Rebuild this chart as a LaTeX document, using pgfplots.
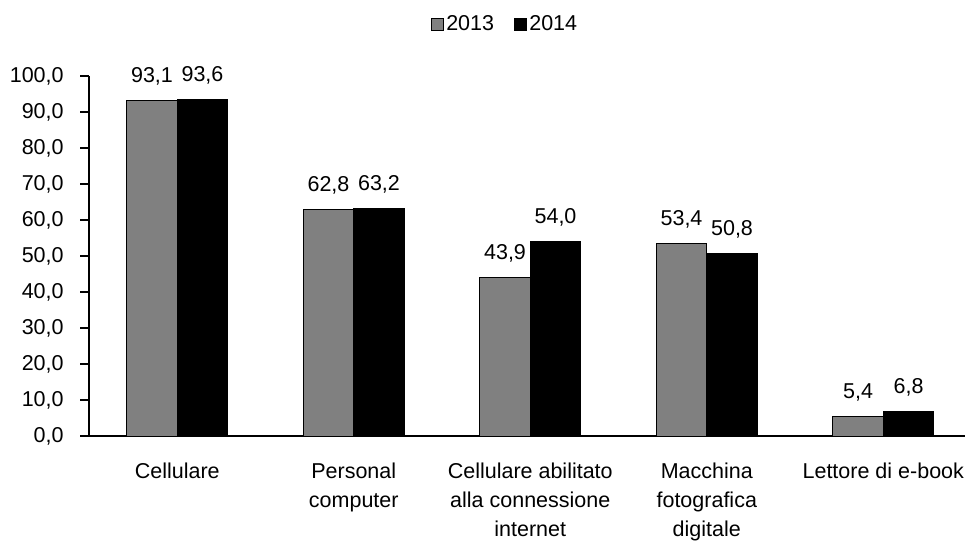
\documentclass[border=0pt]{standalone}
\usepackage{pgfplots}
\pgfplotsset{compat=1.18}
\usepackage{fontspec}
\setmainfont{Liberation Sans}
\newcommand{\cf}{\fontsize{10.75}{14.5}\selectfont}
\begin{document}
\begin{tikzpicture}
\path[use as bounding box] (0,0) rectangle (482.5pt,271pt);
\begin{axis}[
  at={(44.5pt,53pt)}, anchor=south west,
  scale only axis, width=438pt, height=180pt,
  ybar=0pt, bar width=25.25pt,
  xmin=-0.5, xmax=4.463, ymin=0, ymax=100,
  enlargelimits=false,
  axis x line*=bottom, axis y line*=left,
  axis line style={-, line width=0.8pt, black},
  xtick={0,1,2,3,4},
  xticklabels={Cellulare, Personal\\computer, Cellulare abilitato\\alla connessione\\internet, Macchina\\fotografica\\digitale, Lettore di e-book},
  xtick style={draw=none},
  minor xtick={-0.5,0.5,1.5,2.5,3.5},
  minor x tick style={line width=0.8pt, black},
  minor tick length=4pt,
  ytick={0,10,...,100},
  ytick style={line width=0.8pt, black},
  major tick length=4.5pt,
  tick align=outside,
  xticklabel style={font=\cf, align=center, anchor=north, inner sep=0pt, yshift=-9pt},
  yticklabel style={font=\cf, anchor=east, inner sep=0pt, xshift=-8pt},
  /pgf/number format/.cd, fixed, fixed zerofill, precision=1, use comma, 1000 sep={}, assume math mode=true,
  /pgfplots/.cd,
  nodes near coords,
  nodes near coords style={font=\cf, anchor=base, inner sep=0pt, yshift=9pt, black},
  legend style={at={(axis description cs:0.475,1.144)}, anchor=center, draw=none, fill=none,
    legend columns=2, font=\cf, inner sep=0pt,
    /tikz/every even column/.append style={column sep=9pt},
    nodes={inner sep=1pt}},
  legend image code/.code={\draw[#1, line width=0.6pt] (0pt,-3pt) rectangle (6pt,3pt);},
]
\addplot[fill=gray!100!white, fill=black!50, draw=black, line width=0.5pt] coordinates {(0,93.1) (1,62.8) (2,43.9) (3,53.4) (4,5.4)};
\addplot[fill=black, draw=black, line width=0.5pt] coordinates {(0,93.6) (1,63.2) (2,54.0) (3,50.8) (4,6.8)};
\legend{2013,2014}
\end{axis}
\end{tikzpicture}
\end{document}
